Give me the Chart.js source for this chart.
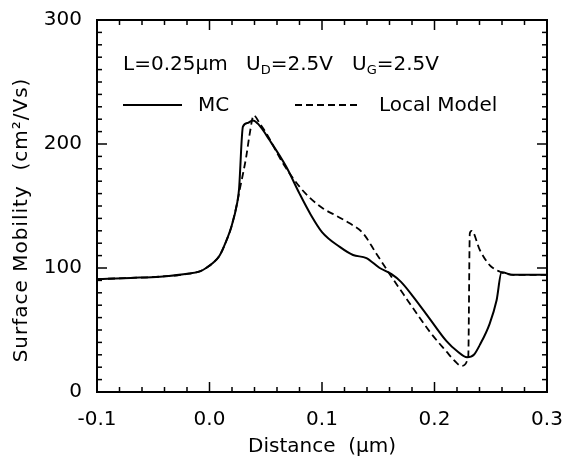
<!DOCTYPE html>
<html>
<head>
<meta charset="utf-8">
<script src="https://cdn.jsdelivr.net/npm/chart.js@4/dist/chart.umd.min.js"></script>
<style>
  html,body{margin:0;padding:0;background:#fff;}
  canvas{display:block;}
</style>
</head>
<body>
<canvas id="c" width="563" height="456"></canvas>
<script>
// ---- data ----
const mcX = [-0.1, -0.07, -0.044, -0.018, -0.008, -0.003, 0.003, 0.009, 0.015, 0.0194, 0.0245, 0.0262, 0.0297, 0.034, 0.0386, 0.0434, 0.0535, 0.068, 0.080, 0.090, 0.100, 0.1158, 0.1276, 0.1395, 0.1513, 0.1618, 0.170, 0.181, 0.1958, 0.2107, 0.220, 0.229, 0.235, 0.2403, 0.249, 0.2552, 0.2596, 0.270, 0.3];
const mcY = [91, 92, 93, 95.5, 97.5, 100, 104, 110, 122, 133, 152, 163, 214, 217, 219, 216, 203, 182, 160, 143, 129, 117, 110.5, 108, 100, 95, 89, 77, 59, 41, 33, 28, 30, 38, 55, 74, 96.5, 94.5, 94.5];

const lmX = [-0.1, -0.07, -0.044, -0.018, -0.008, -0.003, 0.003, 0.009, 0.015, 0.0194, 0.0245, 0.0268, 0.0300, 0.0327, 0.0357, 0.0393, 0.0450, 0.0505, 0.0653, 0.080, 0.090, 0.1009, 0.1130, 0.1246, 0.1365, 0.148, 0.1617, 0.170, 0.181, 0.1958, 0.2107, 0.218, 0.224, 0.2300, 0.2314, 0.2330, 0.2403, 0.249, 0.2596, 0.270, 0.3];
const lmY = [91, 92, 93, 95.5, 97.5, 100, 104, 110, 122, 133, 152, 163, 177, 190, 208, 223, 216, 208.6, 184.4, 165.6, 156, 148, 142, 136, 128, 112, 93, 82, 67.5, 48.6, 32.5, 25, 21, 28.5, 128, 130, 114.5, 102.4, 96.5, 94.5, 94.5];

const xTicks = [-0.1, 0.0, 0.1, 0.2, 0.3];
const yTicks = [0, 100, 200, 300];
const xMinorStep = 0.02;
const yMinorStep = 10;

const seriesNames = ["MC", "Local Model"];
const xTitle = "Distance  (\u00b5m)";
const yTitle = "Surface Mobility  (cm\u00b2/Vs)";

const FONT = "DejaVu Sans";

const toPts = (xs, ys) => xs.map((v, i) => ({x: v, y: ys[i]}));

// ---- plugins ----
const framePlugin = {
  id: 'frame',
  afterDatasetsDraw(chart) {
    const {ctx, chartArea: a, scales: {x, y}} = chart;
    ctx.save();
    ctx.strokeStyle = '#000';
    ctx.lineWidth = 2;
    ctx.strokeRect(a.left, a.top, a.right - a.left, a.bottom - a.top);
    ctx.lineWidth = 1.5;
    const seg = (x1, y1, x2, y2) => { ctx.beginPath(); ctx.moveTo(x1, y1); ctx.lineTo(x2, y2); ctx.stroke(); };
    const x0 = xTicks[0], x1 = xTicks[xTicks.length - 1];
    const n = Math.round((x1 - x0) / xMinorStep);
    for (let i = 0; i <= n; i++) {
      const v = x0 + i * xMinorStep;
      const px = x.getPixelForValue(v);
      const L = (i % 5 === 0) ? 10 : 5;
      seg(px, a.bottom, px, a.bottom - L);
      seg(px, a.top, px, a.top + L);
    }
    const y0 = yTicks[0], y1 = yTicks[yTicks.length - 1];
    const m = Math.round((y1 - y0) / yMinorStep);
    for (let i = 0; i <= m; i++) {
      const v = y0 + i * yMinorStep;
      const py = y.getPixelForValue(v);
      const L = (i % 10 === 0) ? 10 : 5;
      seg(a.left, py, a.left + L, py);
      seg(a.right, py, a.right - L, py);
    }
    ctx.restore();
  }
};

const textPlugin = {
  id: 'texts',
  afterDraw(chart) {
    const {ctx} = chart;
    ctx.save();
    ctx.fillStyle = '#000';
    ctx.strokeStyle = '#000';
    ctx.textBaseline = 'alphabetic';
    ctx.textAlign = 'left';
    const big = `20px "${FONT}"`, small = `13px "${FONT}"`;
    // parameter line
    const base = 70;
    ctx.font = big;
    ctx.fillText("L=0.25\u00b5m", 123, base);
    let xx = 246;
    ctx.fillText("U", xx, base); xx += ctx.measureText("U").width;
    ctx.font = small; ctx.fillText("D", xx, base + 4); xx += ctx.measureText("D").width;
    ctx.font = big; ctx.fillText("=2.5V", xx, base);
    xx = 352;
    ctx.fillText("U", xx, base); xx += ctx.measureText("U").width;
    ctx.font = small; ctx.fillText("G", xx, base + 4); xx += ctx.measureText("G").width;
    ctx.font = big; ctx.fillText("=2.5V", xx, base);
    // legend
    const ly = 105;
    ctx.lineWidth = 2;
    ctx.beginPath(); ctx.moveTo(123, ly); ctx.lineTo(182, ly); ctx.stroke();
    ctx.fillText(seriesNames[0], 198, 111);
    ctx.setLineDash([7, 4]);
    ctx.beginPath(); ctx.moveTo(295, ly); ctx.lineTo(359, ly); ctx.stroke();
    ctx.setLineDash([]);
    ctx.fillText(seriesNames[1], 379, 111);
    // y title
    ctx.translate(22, 220);
    ctx.rotate(-Math.PI / 2);
    ctx.textAlign = 'center';
    ctx.textBaseline = 'middle';
    ctx.font = `20px "${FONT}"`;
    try { ctx.letterSpacing = '1px'; } catch (e) {}
    ctx.fillText(yTitle, 0, 0);
    ctx.restore();
  }
};

new Chart(document.getElementById('c'), {
  type: 'scatter',
  data: {
    datasets: [
      {
        label: seriesNames[0],
        data: toPts(mcX, mcY),
        showLine: true,
        borderColor: '#000',
        borderWidth: 2,
        pointRadius: 0,
        cubicInterpolationMode: 'monotone',
        fill: false
      },
      {
        label: seriesNames[1],
        data: toPts(lmX, lmY),
        showLine: true,
        borderColor: '#000',
        borderWidth: 1.8,
        borderDash: [7, 4],
        pointRadius: 0,
        cubicInterpolationMode: 'monotone',
        fill: false
      }
    ]
  },
  options: {
    responsive: false,
    devicePixelRatio: 1,
    animation: false,
    layout: { padding: { left: 0, right: 16, top: 20, bottom: 0 } },
    plugins: { legend: { display: false }, tooltip: { enabled: false } },
    scales: {
      x: {
        type: 'linear',
        min: xTicks[0],
        max: xTicks[xTicks.length - 1],
        afterBuildTicks: s => { s.ticks = xTicks.map(v => ({ value: v })); },
        afterFit: s => { s.height = 64; s.paddingLeft = 0; s.paddingRight = 0; },
        grid: { display: false, drawTicks: false },
        border: { display: false },
        ticks: {
          color: '#000',
          font: { family: FONT, size: 20 },
          padding: 16,
          maxRotation: 0,
          autoSkip: false,
          callback: v => Number(v).toFixed(1)
        },
        title: {
          display: true,
          text: xTitle,
          color: '#000',
          font: { family: FONT, size: 20, lineHeight: 1 },
          padding: { top: 0, bottom: -1 }
        }
      },
      y: {
        type: 'linear',
        min: yTicks[0],
        max: yTicks[yTicks.length - 1],
        afterBuildTicks: s => { s.ticks = yTicks.map(v => ({ value: v })); },
        afterFit: s => { s.width = 97; s.paddingTop = 0; s.paddingBottom = 0; },
        grid: { display: false, drawTicks: false },
        border: { display: false },
        ticks: {
          color: '#000',
          font: { family: FONT, size: 20 },
          padding: 15,
          autoSkip: false,
          callback: v => String(v)
        }
      }
    }
  },
  plugins: [framePlugin, textPlugin]
});
</script>
</body>
</html>
